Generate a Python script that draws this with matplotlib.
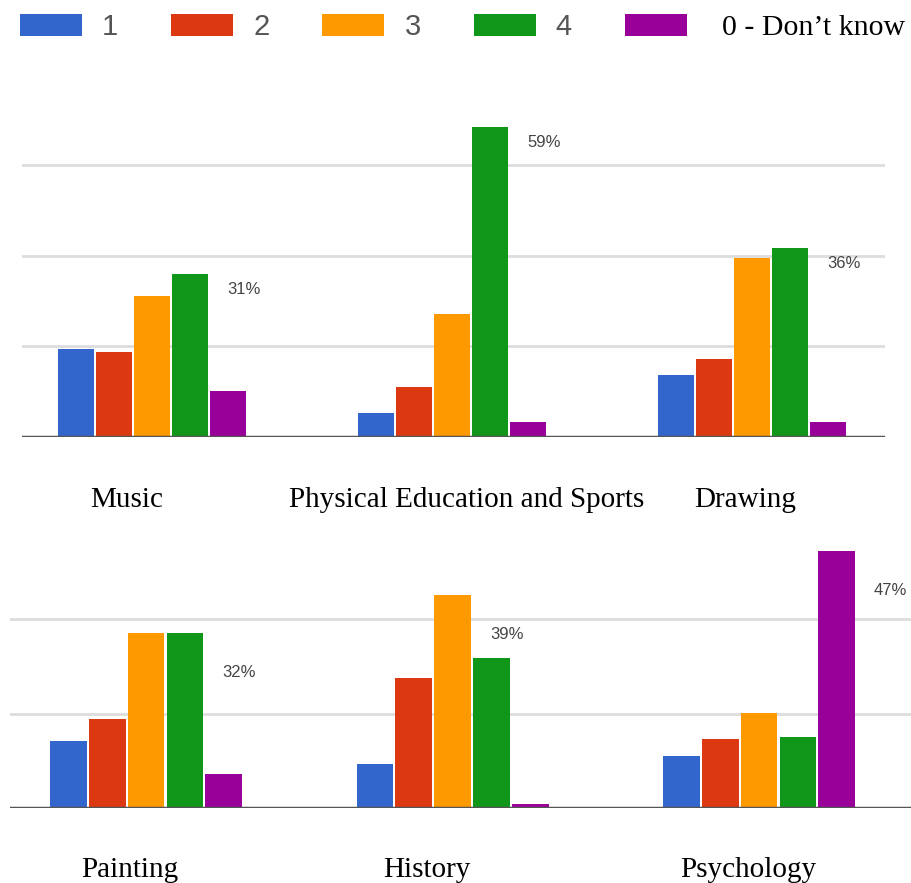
import matplotlib
matplotlib.use("Agg")
import matplotlib.pyplot as plt
import numpy as np

# share of respondents (%) giving each rating, per subject
subjects_top = ["Music", "Physical Education and Sports", "Drawing"]
subjects_bottom = ["Painting", "History", "Psychology"]

ratings = ["1", "2", "3", "4", "0 - Don\u2019t know"]

music = [16.7, 16.2, 26.8, 31, 8.8]
sports = [4.6, 9.5, 23.3, 59, 2.9]
drawing = [11.7, 14.9, 34, 36, 2.9]
painting = [12.3, 16.3, 32, 32, 6.3]
history = [8.0, 23.7, 39, 27.5, 0.8]
psychology = [9.5, 12.6, 17.3, 13.0, 47]

n_respondents = 58
grid_counts = [10, 20, 30]

colors = ["#3366cc", "#dc3912", "#ff9900", "#109618", "#990099"]

W, H = 912, 883
fig = plt.figure(figsize=(W / 100, H / 100), dpi=100)


def px_axes(x0, x1, y_base, height):
    # axes placed by pixel edges measured from the top-left corner
    return fig.add_axes([x0 / W, 1 - y_base / H, (x1 - x0) / W, height / H])


def draw_panel(ax, groups, xlim, ylim_top, label_dy):
    data = np.array(groups)
    n_groups, n_bars = data.shape
    step = 0.1267
    width = 0.12
    centers = np.arange(n_groups)
    bars = []
    for j in range(n_bars):
        b = ax.bar(centers + (j - 2) * step, data[:, j], width=width,
                   color=colors[j], label=ratings[j], zorder=3, linewidth=0)
        bars.append(b)
    # value label beside the tallest bar of each group
    for g in range(n_groups):
        row = data[g]
        k = n_bars - 1 - int(np.argmax(row[::-1]))
        ax.annotate(f"{row[k]:.0f}%", xy=(centers[g] + (k - 2) * step, row[k]),
                    xytext=(54, label_dy), textcoords="offset pixels",
                    ha="center", va="center", fontsize=12,
                    family="Liberation Sans", color="#444444")
    grid_vals = [c / n_respondents * 100 for c in grid_counts]
    for v in grid_vals:
        if v < ylim_top:
            ax.axhline(v, color="#dddddd", lw=2, zorder=1)
    ax.axhline(0, color="#555555", lw=2.5, zorder=4)
    ax.set_xlim(*xlim)
    ax.set_ylim(0, ylim_top)
    ax.axis("off")
    return bars


ax_top = px_axes(22, 885, 437, 5.26 * 62)
bars = draw_panel(ax_top, [music, sports, drawing],
                  (-0.433, 2.443), 62, -16)

ax_bot = px_axes(10, 912, 808, 5.47 * 50)
draw_panel(ax_bot, [painting, history, psychology],
           (-0.444, 2.499), 50, -40)

# subject names under each panel
serif = "Liberation Serif"
for name, x in zip(subjects_top, [127, 467, 745]):
    fig.text(x / W, 1 - 507 / H, name, ha="center", va="baseline",
             fontsize=21, family=serif, color="black")
for name, x in zip(subjects_bottom, [130, 427, 748]):
    fig.text(x / W, 1 - 877 / H, name, ha="center", va="baseline",
             fontsize=21, family=serif, color="black")

# legend row along the top
fs = 21
fs_px = fs * 100 / 72
leg = fig.legend(handles=[b for b in bars], labels=ratings, ncol=5,
                 loc="upper left", bbox_to_anchor=(20 / W, 1 - 13 / H),
                 frameon=False, fontsize=fs, borderpad=0, borderaxespad=0,
                 handlelength=62 / fs_px, handleheight=23 / fs_px,
                 handletextpad=20 / fs_px, columnspacing=53 / fs_px)
for i, t in enumerate(leg.get_texts()):
    if i < 4:
        t.set_fontfamily("Liberation Sans")
        t.set_color("#555555")
    else:
        t.set_fontfamily(serif)
        t.set_color("black")
        t.set_fontsize(21.5)

# the last entry sits a little further from its swatch
fig.canvas.draw()
last = leg.get_texts()[4]
last.set_transform(last.get_transform()
                   + matplotlib.transforms.Affine2D().translate(15, 0))

fig.savefig("out.png", dpi=100)
